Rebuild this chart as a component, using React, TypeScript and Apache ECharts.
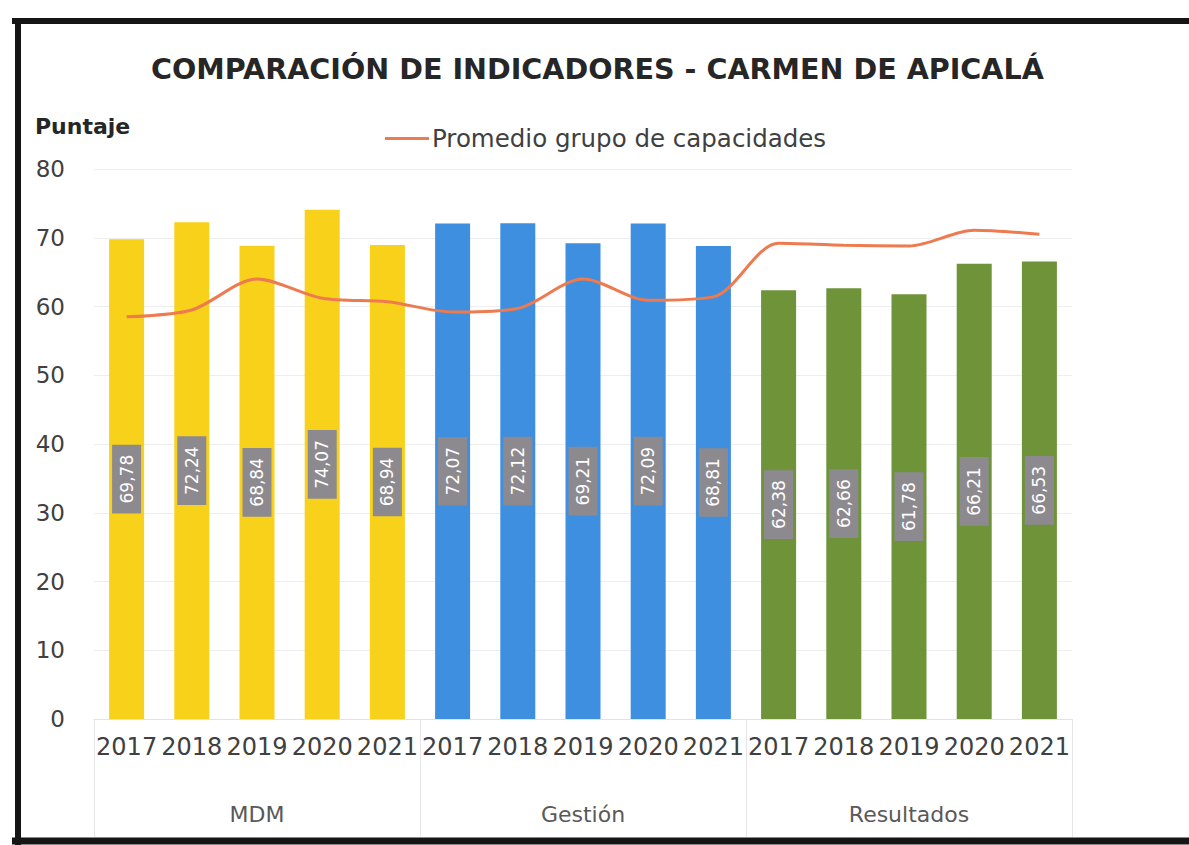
import React, { useEffect, useRef } from "react";
import * as echarts from "echarts";

// Indicator groups and years
const groups = ["MDM", "Gestión", "Resultados"];
const years = ["2017", "2018", "2019", "2020", "2021"];

// Municipality scores per group (2017–2021)
const mdm = [69.78, 72.24, 68.84, 74.07, 68.94];
const gestion = [72.07, 72.12, 69.21, 72.09, 68.81];
const resultados = [62.38, 62.66, 61.78, 66.21, 66.53];

// Average of the capacity group, same order as the bars
const promedio = [58.5, 59.5, 64.0, 61.2, 60.7, 59.2, 59.7, 64.0, 60.9, 61.4, 69.2, 68.9, 68.8, 71.1, 70.5];

const groupColors = ["#F8D11A", "#3F8FE0", "#6E9339"];
const lineColor = "#EE7A50";
const labelBg = "#8D8A8F";

const FONT = "DejaVu Sans";

export default function App() {
  const ref = useRef<HTMLDivElement>(null);

  useEffect(() => {
    document.body.style.margin = "0";
    if (!ref.current) return;
    const chart = echarts.init(ref.current, undefined, { renderer: "svg" });

    const series = [mdm, gestion, resultados];
    const categories: string[] = [];
    const barData: any[] = [];
    series.forEach((vals, gi) => {
      vals.forEach((v, yi) => {
        categories.push(years[yi]);
        barData.push({ value: v, itemStyle: { color: groupColors[gi] } });
      });
    });

    chart.setOption({
      animation: false,
      backgroundColor: "#ffffff",
      textStyle: { fontFamily: FONT },
      title: {
        text: "COMPARACIÓN DE INDICADORES - CARMEN DE APICALÁ",
        left: 146,
        top: 49,
        textStyle: { fontFamily: FONT, fontSize: 28.6, fontWeight: "bold", color: "#262626" },
      },
      legend: {
        data: ["Promedio grupo de capacidades"],
        left: 380,
        top: 121,
        icon: "rect",
        itemWidth: 44,
        itemHeight: 3,
        itemGap: 5,
        textStyle: { fontFamily: FONT, fontSize: 24.5, color: "#404040", padding: [0, 0, 0, -2] },
      },
      grid: { left: 94, right: 117, top: 169, bottom: 126, containLabel: false },
      xAxis: [
        {
          type: "category",
          data: categories,
          axisLine: { show: true, lineStyle: { color: "#e2e2e2" } },
          axisTick: { show: false },
          axisLabel: { interval: 0, fontFamily: FONT, fontSize: 24, color: "#404040", margin: 16 },
        },
        {
          type: "category",
          data: groups,
          position: "bottom",
          boundaryGap: true,
          axisLine: { show: false },
          axisTick: { show: true, length: 118, lineStyle: { color: "#e6e6e6" } },
          axisLabel: { interval: 0, fontFamily: FONT, fontSize: 22, color: "#595959", margin: 84 },
        },
      ],
      yAxis: {
        type: "value",
        min: 0,
        max: 80,
        interval: 10,
        axisLine: { show: false },
        axisTick: { show: false },
        splitLine: { lineStyle: { color: "#eeeeee" } },
        axisLabel: { fontFamily: FONT, fontSize: 23, color: "#404040", margin: 29 },
      },
      series: [
        {
          name: "Puntaje",
          type: "bar",
          xAxisIndex: 0,
          barWidth: 35,
          data: barData,
          label: {
            show: true,
            position: "inside",
            rotate: 90,
            align: "center",
            verticalAlign: "middle",
            formatter: (p: any) => Number(p.value).toFixed(2).replace(".", ","),
            color: "#ffffff",
            fontFamily: FONT,
            fontSize: 17,
            backgroundColor: labelBg,
            padding: [6, 10],
          },
        },
        {
          name: "Promedio grupo de capacidades",
          type: "line",
          xAxisIndex: 0,
          data: promedio,
          symbol: "none",
          smooth: 0.3,
          lineStyle: { color: lineColor, width: 3 },
          itemStyle: { color: lineColor },
          z: 5,
        },
      ],
      graphic: [
        {
          type: "text",
          left: 35,
          top: 115,
          style: { text: "Puntaje", fontFamily: FONT, fontSize: 22, fontWeight: "bold", fill: "#262626" },
        },
        { type: "line", shape: { x1: 12, y1: 21, x2: 1189, y2: 21 }, style: { stroke: "#151515", lineWidth: 6 } },
        { type: "line", shape: { x1: 18, y1: 18, x2: 18, y2: 845 }, style: { stroke: "#151515", lineWidth: 6 } },
        { type: "line", shape: { x1: 12, y1: 841, x2: 1189, y2: 841 }, style: { stroke: "#151515", lineWidth: 7 } },
      ],
    });

    return () => chart.dispose();
  }, []);

  return <div ref={ref} style={{ width: 1189, height: 845 }} />;
}
